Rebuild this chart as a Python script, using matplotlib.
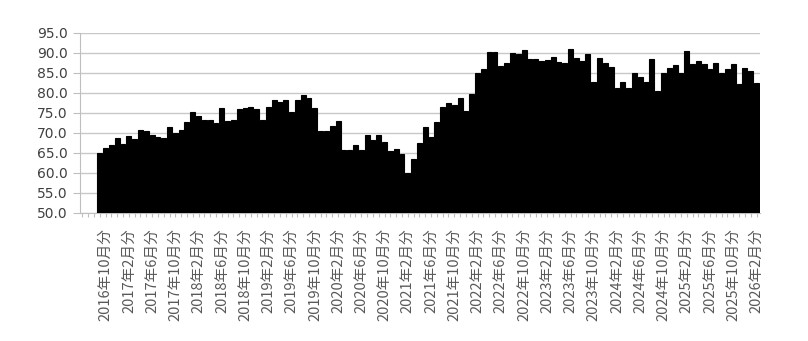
import matplotlib
matplotlib.use("Agg")
import matplotlib.pyplot as plt

plt.rcParams['font.family'] = ['Noto Sans CJK JP', 'DejaVu Sans']

# monthly values, 2016-09 .. 2026-02
values = [
    65.0, 66.2, 67.0, 68.7, 67.3, 69.2, 68.5, 70.7, 70.5, 69.5,
    69.0, 68.8, 71.5, 70.0, 70.8, 72.8, 75.2, 74.2, 73.3, 73.2,
    72.5, 76.3, 73.0, 73.3, 76.0, 76.3, 76.4, 76.0, 73.3, 76.6,
    78.2, 77.8, 78.2, 75.3, 78.2, 79.5, 78.7, 76.2, 70.6, 70.4,
    71.7, 73.1, 65.7, 65.8, 67.0, 65.8, 69.6, 68.2, 69.6, 67.8,
    65.4, 66.0, 64.8, 60.1, 63.5, 67.4, 71.4, 69.0, 72.8, 76.5,
    77.5, 77.0, 78.7, 75.6, 79.7, 84.9, 85.9, 90.3, 90.2, 86.7,
    87.5, 89.9, 89.8, 90.7, 88.6, 88.6, 88.1, 88.2, 89.1, 87.8,
    87.4, 90.9, 88.7, 88.1, 89.7, 82.8, 88.7, 87.6, 86.6, 81.2,
    82.8, 81.2, 84.9, 83.9, 82.8, 88.4, 80.4, 84.9, 86.2, 87.0,
    84.9, 90.5, 87.2, 88.1, 87.2, 86.0, 87.6, 85.1, 85.9, 87.2,
    82.3, 86.3, 85.5, 82.4,
]

# labels shown every 4 months, starting at 2016-10 (second bar)
tick_labels = [
    "2016年10月分", "2017年2月分", "2017年6月分", "2017年10月分",
    "2018年2月分", "2018年6月分", "2018年10月分", "2019年2月分",
    "2019年6月分", "2019年10月分", "2020年2月分", "2020年6月分",
    "2020年10月分", "2021年2月分", "2021年6月分", "2021年10月分",
    "2022年2月分", "2022年6月分", "2022年10月分", "2023年2月分",
    "2023年6月分", "2023年10月分", "2024年2月分", "2024年6月分",
    "2024年10月分", "2025年2月分", "2025年6月分", "2025年10月分",
    "2026年2月分",
]
y_ticks = [50, 55, 60, 65, 70, 75, 80, 85, 90, 95]

fig = plt.figure(figsize=(8.08, 3.41), dpi=100)
ax = fig.add_axes([80 / 808, 1 - 213 / 341, 680 / 808, 180 / 341])

x = list(range(len(values)))
ax.bar(x, values, width=0.85, color='black', edgecolor='black', linewidth=0.8, zorder=3)

ax.set_ylim(50, 95)
ax.set_xlim(-3.4, len(values) - 0.4)
ax.set_yticks(y_ticks)
ax.set_yticklabels(["%.1f" % v for v in y_ticks], fontsize=10, color='#404040',
                   family=['DejaVu Sans'])
ax.yaxis.grid(True, color='#c8c8c8', linewidth=1, zorder=0)

ax.set_xticks(list(range(1, len(values), 4)))
ax.set_xticklabels(tick_labels, rotation=90, fontsize=10.5, color='#595959')
ax.set_xticks(list(range(-3, len(values))), minor=True)
ax.tick_params(axis='x', which='both', length=3, width=0.8, color='#bfbfbf', pad=8)
ax.tick_params(axis='y', length=5, width=0.8, color='#bfbfbf', pad=4)

for s in ['top', 'right']:
    ax.spines[s].set_visible(False)
ax.spines['left'].set_color('#bfbfbf')
ax.spines['bottom'].set_color('#bfbfbf')

fig.savefig("out.png", dpi=100)
